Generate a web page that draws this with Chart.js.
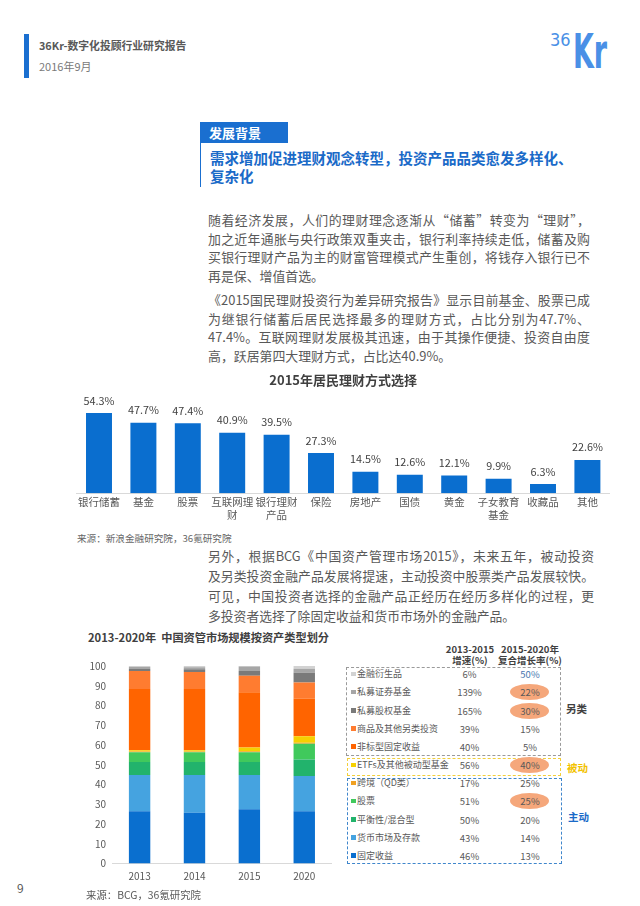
<!DOCTYPE html>
<html lang="zh-CN">
<head>
<meta charset="utf-8">
<title>36Kr-数字化投顾行业研究报告</title>
<script src="https://cdn.jsdelivr.net/npm/chart.js@4.4.0/dist/chart.umd.min.js"></script>
<style>
  html, body { margin: 0; padding: 0; background: #fff; }
  body {
    width: 640px; height: 906px; position: relative; overflow: hidden;
    font-family: "Noto Sans CJK SC", "Noto Sans", sans-serif; color: #595959;
  }
  .abs { position: absolute; white-space: nowrap; }
  .line {
    position: absolute; left: 208px; width: 382px; height: 18px; line-height: 18px;
    font-size: 12.9px; text-align: justify; text-align-last: justify; white-space: normal;
  }
  .line.last { text-align-last: left; }
  canvas { position: absolute; }
  .box { position: absolute; border: 1px dashed #9a9a9a; box-sizing: border-box; }
  .cell { position: absolute; font-size: 9.5px; line-height: 12px; width: 40px; text-align: center; }
  .oval { position: absolute; width: 39px; height: 16px; border-radius: 50%; background: #f5a77b; }
  .logo { position: absolute; font-family: "DejaVu Sans", sans-serif; color: #4a90e6; transform-origin: left; }
</style>
</head>
<body>

<!-- header -->
<div class="abs" style="left:24px;top:34px;width:5px;height:44px;background:#1a6fd0;"></div>
<div class="abs" style="left:39px;top:37px;font-size:10.8px;line-height:16px;font-weight:bold;color:#595959;">36Kr-数字化投顾行业研究报告</div>
<div class="abs" style="left:39px;top:58px;font-size:11px;line-height:16px;color:#7a7a7a;">2016年9月</div>
<div class="logo" style="left:550px;top:31px;font-size:18px;line-height:18px;transform:scaleX(0.9);">36</div>
<div class="logo" style="left:573px;top:27px;font-size:48px;line-height:48px;font-weight:bold;transform:scaleX(0.56);">Kr</div>

<!-- section heading -->
<div class="abs" style="left:200px;top:122px;width:88px;height:21px;background:#1a6fd0;"></div>
<div class="abs" style="left:209px;top:123px;font-size:13px;line-height:19px;font-weight:bold;color:#fff;">发展背景</div>
<div class="abs" style="left:200px;top:143px;width:1px;height:44px;background:#1a6fd0;"></div>
<div class="abs" style="left:210px;top:148px;font-size:14.5px;line-height:19px;font-weight:bold;color:#1a6ac8;">需求增加促进理财观念转型，投资产品品类愈发多样化、</div>
<div class="abs" style="left:210px;top:166px;font-size:14.5px;line-height:19px;font-weight:bold;color:#1a6ac8;">复杂化</div>

<!-- paragraphs -->
<div class="line" style="top:211px;">随着经济发展，人们的理财理念逐渐从“储蓄”转变为“理财”，</div>
<div class="line" style="top:229.7px;">加之近年通胀与央行政策双重夹击，银行利率持续走低，储蓄及购</div>
<div class="line" style="top:248.3px;">买银行理财产品为主的财富管理模式产生重创，将钱存入银行已不</div>
<div class="line last" style="top:267px;">再是保、增值首选。</div>
<div class="line" style="top:291px;">《2015国民理财投资行为差异研究报告》显示目前基金、股票已成</div>
<div class="line" style="top:309.7px;">为继银行储蓄后居民选择最多的理财方式，占比分别为47.7%、</div>
<div class="line" style="top:328.3px;">47.4%。互联网理财发展极其迅速，由于其操作便捷、投资自由度</div>
<div class="line last" style="top:347px;">高，跃居第四大理财方式，占比达40.9%。</div>

<canvas id="shareChart" width="570" height="158" style="left:60px;top:366px;"></canvas>
<div class="abs" style="left:77px;top:531px;font-size:9.6px;line-height:14px;color:#666;">来源：新浪金融研究院，36氪研究院</div>

<div class="line" style="top:547px;width:386px;font-size:12.8px;">另外，根据BCG《中国资产管理市场2015》，未来五年，被动投资</div>
<div class="line" style="top:567px;width:386px;font-size:12.8px;">及另类投资金融产品发展将提速，主动投资中股票类产品发展较快。</div>
<div class="line" style="top:587px;width:386px;font-size:12.8px;">可见，中国投资者选择的金融产品正经历在经历多样化的过程，更</div>
<div class="line last" style="top:607px;width:386px;font-size:12.8px;">多投资者选择了除固定收益和货币市场外的金融产品。</div>

<div class="abs" style="left:88px;top:629px;font-size:11.2px;line-height:16px;font-weight:bold;color:#404040;">2013-2020年&nbsp;&nbsp;中国资管市场规模按资产类型划分</div>
<canvas id="assetChart" width="270" height="237" style="left:70px;top:652px;"></canvas>

<div id="assetTable"></div>

<div class="abs" style="left:17px;top:879px;font-size:12px;line-height:18px;color:#595959;">9</div>
<div class="abs" style="left:86px;top:887px;font-size:10.4px;line-height:16px;color:#595959;">来源：BCG，36氪研究院</div>

<script>
// 2015年居民理财方式选择 (%)
const channels = ['银行储蓄', '基金', '股票', ['互联网理', '财'], ['银行理财', '产品'], '保险',
  '房地产', '国债', '黄金', ['子女教育', '基金'], '收藏品', '其他'];
const channelShares = [54.3, 47.7, 47.4, 40.9, 39.5, 27.3, 14.5, 12.6, 12.1, 9.9, 6.3, 22.6];

// 资管市场规模按资产类型 (%), bottom of the stack first
const years = ['2013', '2014', '2015', '2020'];
const assetClasses = ['固定收益', '货币市场及存款', '平衡性/混合型', '股票', '跨境（QD类）',
  'ETFs及其他被动型基金', '非标型固定收益', '商品及其他另类投资', '私募股权基金', '私募证券基金', '金融衍生品'];
const shareFixedIncome = [26.5, 25.7, 27.5, 26.5];
const shareMoneyMarket = [18.3, 19.1, 17.3, 17.8];
const shareBalanced = [6.6, 6.6, 6.6, 8.4];
const shareEquity = [5.0, 5.0, 5.0, 7.9];
const shareCrossBorder = [0.3, 0.3, 0.4, 0.6];
const sharePassive = [0.7, 0.7, 2.0, 3.2];
const shareNonStandard = [30.9, 30.9, 27.9, 19.0];
const shareCommodities = [9.2, 8.7, 8.4, 8.2];
const sharePrivateEquity = [1.0, 1.4, 2.4, 5.0];
const sharePrivateSecurities = [1.0, 1.0, 2.2, 2.0];
const shareDerivatives = [0.5, 0.6, 0.3, 1.4];
const assetShares = [shareFixedIncome, shareMoneyMarket, shareBalanced, shareEquity, shareCrossBorder,
  sharePassive, shareNonStandard, shareCommodities, sharePrivateEquity, sharePrivateSecurities, shareDerivatives];

// table columns, same order as assetClasses
const growth2013to2015 = ['46%', '43%', '50%', '51%', '17%', '56%', '40%', '39%', '165%', '139%', '6%'];
const cagr2015to2020 = ['13%', '14%', '20%', '25%', '25%', '40%', '5%', '15%', '30%', '22%', '50%'];
const highlightedRows = [3, 5, 8, 9];

const assetColors = ['#0a6fcf', '#45a3e0', '#22b36c', '#40c95c', '#f0a020', '#f6d000',
  '#ff6400', '#ff7c30', '#7a7a7a', '#a6a6a6', '#d2d2d2'];

const cjk = '"Noto Sans CJK SC", sans-serif';

// value labels above the bars
const valueLabels = {
  id: 'valueLabels',
  afterDatasetsDraw(chart) {
    const ctx = chart.ctx;
    const meta = chart.getDatasetMeta(0);
    ctx.save();
    ctx.font = '10.8px ' + cjk;
    ctx.fillStyle = '#404040';
    ctx.textAlign = 'center';
    ctx.textBaseline = 'middle';
    meta.data.forEach(function (bar, i) {
      ctx.fillText(channelShares[i].toFixed(1) + '%', bar.x, bar.y - 12.5);
    });
    ctx.restore();
  }
};

new Chart(document.getElementById('shareChart'), {
  type: 'bar',
  data: {
    labels: channels,
    datasets: [{
      data: channelShares,
      backgroundColor: '#0a6ecf',
      barPercentage: 0.585,
      categoryPercentage: 1
    }]
  },
  options: {
    responsive: false,
    animation: false,
    layout: { padding: { left: 16.8, right: 20.4, top: 0, bottom: 0 } },
    plugins: {
      legend: { display: false },
      tooltip: { enabled: false },
      title: {
        display: true,
        text: '2015年居民理财方式选择',
        color: '#404040',
        font: { family: cjk, size: 13, weight: 'bold' },
        padding: { top: 6.2, bottom: 14.5 }
      }
    },
    scales: {
      y: { display: false, min: 0, max: 61.5 },
      x: {
        grid: { display: false, drawTicks: false },
        border: { color: '#d9d9d9' },
        ticks: {
          color: '#595959',
          padding: 2,
          maxRotation: 0,
          autoSkip: false,
          font: { family: cjk, size: 10.5, lineHeight: 1.27 }
        }
      }
    }
  },
  plugins: [valueLabels]
});

new Chart(document.getElementById('assetChart'), {
  type: 'bar',
  data: {
    labels: years,
    datasets: assetClasses.map(function (name, i) {
      return {
        label: name,
        data: assetShares[i],
        backgroundColor: assetColors[i],
        barPercentage: 0.39,
        categoryPercentage: 1
      };
    })
  },
  options: {
    responsive: false,
    animation: false,
    layout: { padding: { left: 13.5, right: 8.3, top: 14, bottom: 0 } },
    plugins: { legend: { display: false }, tooltip: { enabled: false } },
    scales: {
      y: {
        stacked: true,
        min: 0,
        max: 100,
        grid: { display: false, drawTicks: false },
        border: { display: false },
        ticks: { stepSize: 10, padding: 6, color: '#595959', font: { family: cjk, size: 10 } }
      },
      x: {
        stacked: true,
        grid: { display: false, drawTicks: false },
        border: { color: '#d9d9d9' },
        ticks: { padding: 6.7, color: '#595959', font: { family: cjk, size: 10 } }
      }
    }
  }
});

// legend table to the right of the stacked chart
(function buildTable() {
  const host = document.getElementById('assetTable');
  const rowTop = 674.3, rowStep = 18.15;
  let html = '';
  html += '<div class="cell" style="left:440px;top:644px;width:60px;line-height:11px;font-weight:bold;color:#404040;">2013-2015<br>增速(%)</div>';
  html += '<div class="cell" style="left:495px;top:644px;width:70px;line-height:11px;font-weight:bold;color:#404040;">2015-2020年<br>复合增长率(%)</div>';
  html += '<div class="box" style="left:346px;top:667px;width:215px;height:89px;"></div>';
  html += '<div class="box" style="left:347px;top:758px;width:214px;height:18px;border-color:#f2cf3a;"></div>';
  html += '<div class="box" style="left:347px;top:778px;width:215px;height:86px;border-color:#3f86cc;"></div>';
  html += '<div class="abs" style="left:566px;top:700px;font-size:10.5px;line-height:18px;font-weight:bold;color:#404040;">另类</div>';
  html += '<div class="abs" style="left:567px;top:759px;font-size:10.5px;line-height:18px;font-weight:bold;color:#f2c200;">被动</div>';
  html += '<div class="abs" style="left:568px;top:808px;font-size:10.5px;line-height:18px;font-weight:bold;color:#1a6ac8;">主动</div>';
  for (let r = 0; r < assetClasses.length; r++) {
    const i = assetClasses.length - 1 - r;
    const cy = rowTop + r * rowStep;
    if (highlightedRows.indexOf(i) >= 0) {
      html += '<div class="oval" style="left:510px;top:' + (cy - 8) + 'px;"></div>';
    }
    html += '<div class="abs" style="left:351px;top:' + (cy - 2.5) + 'px;width:4.5px;height:4.5px;background:' + assetColors[i] + ';"></div>';
    html += '<div class="abs" style="left:357px;top:' + (cy - 7) + 'px;font-size:9px;line-height:14px;color:#595959;">' + assetClasses[i] + '</div>';
    html += '<div class="cell" style="left:449.5px;top:' + (cy - 6) + 'px;color:#595959;">' + growth2013to2015[i] + '</div>';
    html += '<div class="cell" style="left:510px;top:' + (cy - 6) + 'px;color:' + (i === 10 ? '#4a78b0' : '#595959') + ';">' + cagr2015to2020[i] + '</div>';
  }
  host.innerHTML = html;
})();
</script>
</body>
</html>
